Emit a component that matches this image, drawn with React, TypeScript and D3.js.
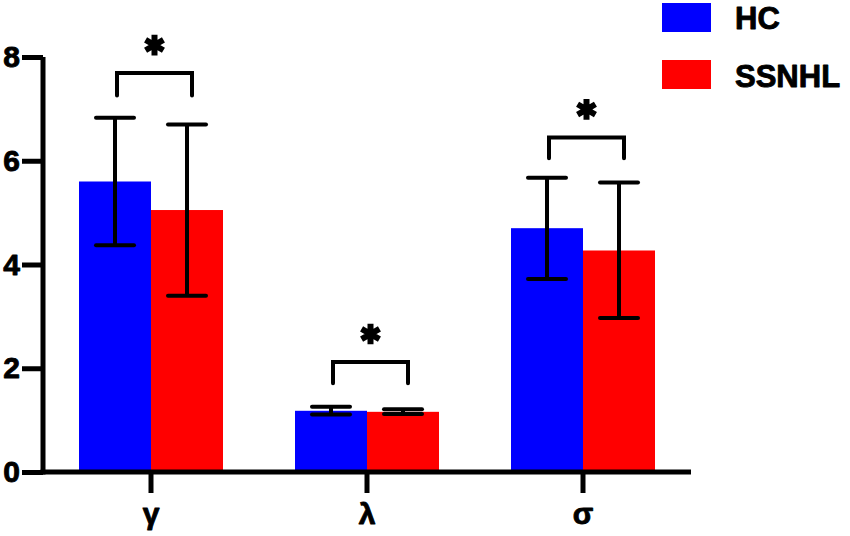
import React, { useEffect, useRef } from "react";
import * as d3 from "d3";

const categories = ["γ", "λ", "σ"];
const series = ["HC", "SSNHL"];
const colors = ["#0000ff", "#ff0000"];
const hcMean = [5.6, 1.18, 4.7];
const hcLow = [4.37, 1.11, 3.72];
const hcHigh = [6.83, 1.26, 5.67];
const ssMean = [5.05, 1.16, 4.27];
const ssLow = [3.4, 1.12, 2.97];
const ssHigh = [6.7, 1.21, 5.58];
const bracketTop = [7.69, 2.12, 6.45];
const bracketFoot = [7.26, 1.71, 6.05];
const yTicks = [0, 2, 4, 6, 8];

const width = 850;
const height = 536;

const App: React.FC = () => {
  const svgRef = useRef<SVGSVGElement>(null);

  useEffect(() => {
    if (!svgRef.current) return;
    const svg = d3.select(svgRef.current);
    svg.selectAll("*").remove();

    const font = "Liberation Sans, Arial, sans-serif";
    const x = d3
      .scaleBand<string>()
      .domain(categories)
      .range([43, 691])
      .paddingInner(1 / 3)
      .paddingOuter(1 / 6);
    const xs = d3.scaleBand<string>().domain(series).range([0, x.bandwidth()]);
    const y = d3.scaleLinear().domain([0, 8]).range([472, 57]);

    const rows = categories.map((c, i) => [
      { c, s: "HC", mean: hcMean[i], lo: hcLow[i], hi: hcHigh[i], col: colors[0] },
      { c, s: "SSNHL", mean: ssMean[i], lo: ssLow[i], hi: ssHigh[i], col: colors[1] },
    ]).flat();

    // bars
    svg
      .selectAll("rect.bar")
      .data(rows)
      .join("rect")
      .attr("class", "bar")
      .attr("x", (d) => (x(d.c) || 0) + (xs(d.s) || 0))
      .attr("y", (d) => y(d.mean))
      .attr("width", xs.bandwidth())
      .attr("height", (d) => y(0) - y(d.mean))
      .attr("fill", (d) => d.col);

    // error bars
    const cap = 19;
    const eb = svg.append("g").attr("stroke", "#000").attr("stroke-width", 4);
    rows.forEach((d) => {
      const cx = (x(d.c) || 0) + (xs(d.s) || 0) + xs.bandwidth() / 2;
      eb.append("line").attr("x1", cx).attr("x2", cx).attr("y1", y(d.hi)).attr("y2", y(d.lo));
      [d.hi, d.lo].forEach((v) => {
        eb.append("line")
          .attr("x1", cx - cap)
          .attr("x2", cx + cap)
          .attr("y1", y(v))
          .attr("y2", y(v))
          .attr("stroke-linecap", "round");
      });
    });

    // significance brackets with asterisks
    const star = d3.symbol().type(d3.symbolAsterisk).size(300);
    categories.forEach((c, i) => {
      const x1 = (x(c) || 0) + (xs("HC") || 0) + xs.bandwidth() / 2 + 2;
      const x2 = (x(c) || 0) + (xs("SSNHL") || 0) + xs.bandwidth() / 2 + 5;
      const path = d3.path();
      path.moveTo(x1, y(bracketFoot[i]));
      path.lineTo(x1, y(bracketTop[i]));
      path.lineTo(x2, y(bracketTop[i]));
      path.lineTo(x2, y(bracketFoot[i]));
      svg
        .append("path")
        .attr("d", path.toString())
        .attr("fill", "none")
        .attr("stroke", "#000")
        .attr("stroke-width", 4)
        .attr("stroke-linecap", "round");
      svg
        .append("path")
        .attr("d", star() || "")
        .attr("transform", `translate(${(x1 + x2) / 2},${y(bracketTop[i]) - 28})`)
        .attr("fill", "none")
        .attr("stroke", "#000")
        .attr("stroke-width", 6);
    });

    const styleText = (sel: d3.Selection<any, any, any, any>, size: number) =>
      sel
        .attr("font-family", font)
        .attr("font-weight", "bold")
        .attr("font-size", size)
        .attr("fill", "#000")
        .attr("stroke", "#000")
        .attr("stroke-width", 0.9)
        .attr("stroke-linejoin", "round");

    // y axis
    const yAxis = svg
      .append("g")
      .attr("transform", "translate(43,0)")
      .call(d3.axisLeft(y).tickValues(yTicks).tickSize(21).tickSizeOuter(0).tickPadding(2));
    yAxis.select(".domain").attr("stroke-width", 5).attr("d", `M0,${y(8)}V${y(0) + 2.5}`);
    yAxis.selectAll(".tick line").attr("stroke-width", 5);
    styleText(yAxis.selectAll("text"), 30);

    // x axis
    const xAxis = svg
      .append("g")
      .attr("transform", `translate(0,${y(0)})`)
      .call(d3.axisBottom(x).tickSize(21).tickSizeOuter(0).tickPadding(10));
    xAxis.select(".domain").attr("stroke-width", 5).attr("d", "M40.5,0H691");
    xAxis.selectAll(".tick line").attr("stroke-width", 5);
    styleText(xAxis.selectAll("text"), 30);

    // legend
    const legend = svg.append("g");
    series.forEach((s, i) => {
      legend
        .append("rect")
        .attr("x", 662)
        .attr("y", 3 + i * 57)
        .attr("width", 49)
        .attr("height", 29)
        .attr("fill", colors[i]);
      styleText(
        legend
          .append("text")
          .attr("x", 735)
          .attr("y", 29 + i * 58)
          .text(s),
        31
      );
    });
  }, []);

  return (
    <svg
      ref={svgRef}
      width={width}
      height={height}
      style={{ position: "absolute", left: 0, top: 0, background: "#fff" }}
    />
  );
};

export default App;
